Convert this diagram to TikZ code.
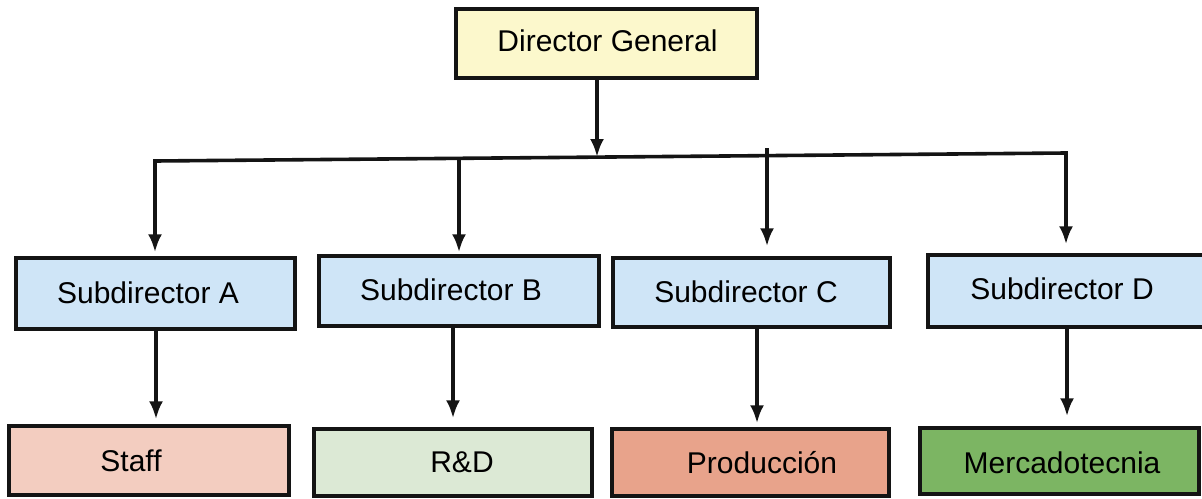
\documentclass[tikz,border=0pt]{standalone}
\usepackage{fontspec}
\setmainfont{Liberation Sans}
\usetikzlibrary{arrows.meta}
\definecolor{dgfill}{HTML}{FCF8CC}
\definecolor{subfill}{HTML}{CFE5F7}
\definecolor{stafffill}{HTML}{F3CDC0}
\definecolor{rndfill}{HTML}{DCE9D5}
\definecolor{prodfill}{HTML}{E8A38B}
\definecolor{mercfill}{HTML}{7CB563}
\begin{document}
\begin{tikzpicture}[x=0.5pt,y=-0.5pt,
  font=\fontsize{15}{18}\selectfont,
  box/.style={draw=black!92, line width=1.7pt, rectangle, inner sep=0pt},
  conn/.style={line width=1.8pt, draw=black!92},
  tip/.tip={Latex[length=9pt,width=7pt]},
  arr/.style={conn, -tip},
  arrboth/.style={conn, tip-tip}]
\useasboundingbox (0,0) rectangle (1202,498);

% top level
\node[box, fill=dgfill, minimum width=150.5pt, minimum height=34.5pt,
  label={[xshift=0.5pt,yshift=1.5pt]center:Director General}] (dg) at (606.5,43.5) {};

% second level
\node[box, fill=subfill, minimum width=139.5pt, minimum height=35.5pt,
  label={[xshift=-3.75pt,yshift=0.5pt]center:Subdirector A}] (sa) at (155.5,293.5) {};
\node[box, fill=subfill, minimum width=140pt, minimum height=35pt,
  label={[xshift=-4pt,yshift=0.5pt]center:Subdirector B}] (sb) at (459,291) {};
\node[box, fill=subfill, minimum width=138.5pt, minimum height=34.5pt,
  label={[xshift=-2.75pt,yshift=0.5pt]center:Subdirector C}] (sc) at (751.5,292.5) {};
\node[box, fill=subfill, minimum width=141pt, minimum height=36pt,
  label={[xshift=-3.5pt,yshift=1pt]center:Subdirector D}] (sd) at (1069,291) {};

% departments
\node[box, fill=stafffill, minimum width=140pt, minimum height=34.5pt,
  label={[xshift=-9pt]center:Staff}] (staff) at (149,460.5) {};
\node[box, fill=rndfill, minimum width=139pt, minimum height=33.5pt,
  label={[xshift=4.5pt]center:R\&D}] (rnd) at (453,462.5) {};
\node[box, fill=prodfill, minimum width=138.5pt, minimum height=33.5pt,
  label={[xshift=5.75pt]center:Producción}] (prod) at (750.5,462.5) {};
\node[box, fill=mercfill, minimum width=139.5pt, minimum height=33pt,
  label={[xshift=1.25pt,yshift=-1pt]center:Mercadotecnia}] (merc) at (1059.5,461) {};

% junction points on the distribution bar
\coordinate (barL) at (155,161);
\coordinate (barR) at (1066,153);
\coordinate (jd) at (597,157);
\coordinate (jb) at (459,158.3);
\coordinate (jc) at (767,148);
% vertical lines down to the departments
\coordinate (la) at (156,0);
\coordinate (lb) at (453,0);
\coordinate (lc) at (757,0);
\coordinate (ld) at (1067,0);

% connectors
\draw[arr] (jd |- dg.south) -- (jd);
\draw[arrboth, shorten <=2pt, shorten >=4.5pt] (barL |- sa.north) -- (barL) -- (barR) -- (barR |- sd.north);
\draw[arr, shorten >=1pt] (jb) -- (jb |- sb.north);
\draw[arr, shorten >=5pt] (jc) -- (jc |- sc.north);

\draw[arr, shorten >=2.5pt] (la |- sa.south) -- (la |- staff.north);
\draw[arr, shorten >=4.5pt] (lb |- sb.south) -- (lb |- rnd.north);
\draw[arr, shorten >=2pt] (lc |- sc.south) -- (lc |- prod.north);
\draw[arr, shorten >=5pt] (ld |- sd.south) -- (ld |- merc.north);
\end{tikzpicture}
\end{document}
